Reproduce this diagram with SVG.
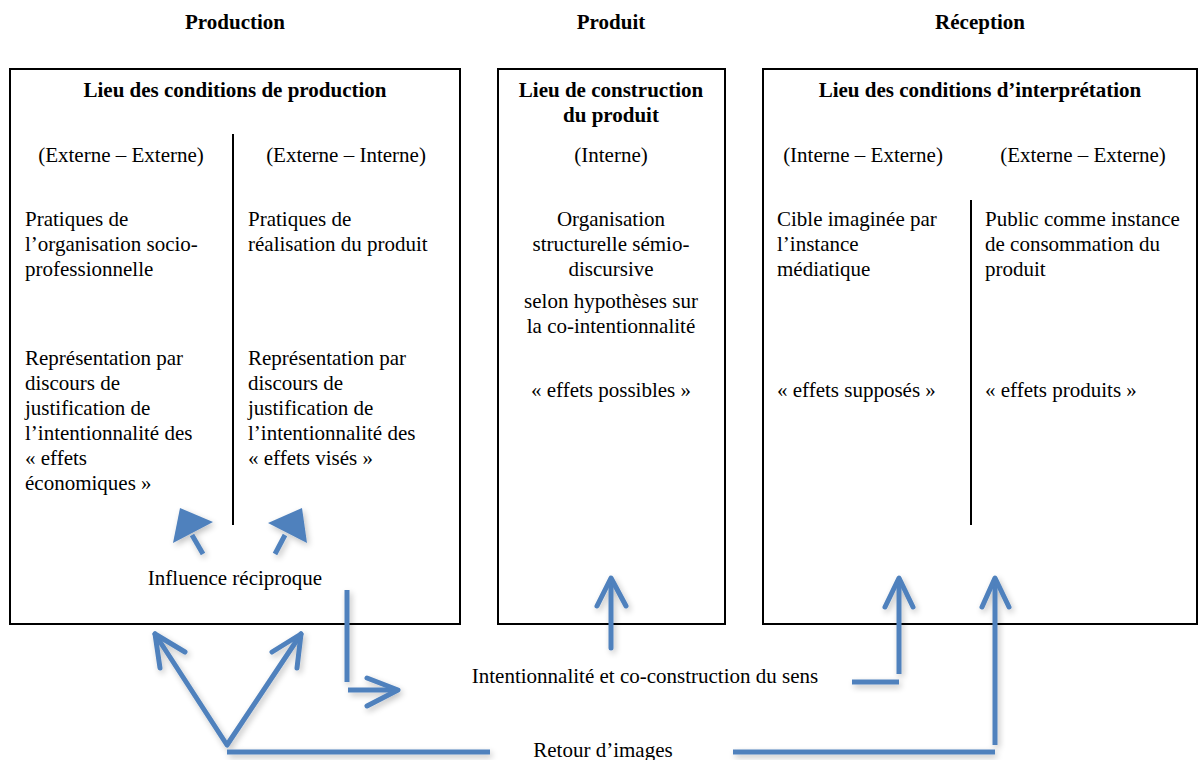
<svg xmlns="http://www.w3.org/2000/svg" width="1202" height="760" viewBox="0 0 1202 760">
<style>
.box{fill:#fff;stroke:#000;stroke-width:2}
.div{stroke:#000;stroke-width:2}
text{font-family:"Liberation Serif","Times New Roman",serif;font-size:21px;fill:#000}
.b{font-weight:bold}
.c{text-anchor:middle}
.ar{fill:none;stroke:#4F81BD;stroke-width:5;stroke-linecap:round;stroke-linejoin:round}
.ln{fill:none;stroke:#4F81BD;stroke-width:5}
.tri{fill:#4F81BD}
</style>
<defs>
<filter id="sh" x="-20%" y="-20%" width="140%" height="140%">
<feGaussianBlur in="SourceAlpha" stdDeviation="3"/>
<feOffset dx="2" dy="3" result="o"/>
<feComponentTransfer><feFuncA type="linear" slope="0.25"/></feComponentTransfer>
<feMerge><feMergeNode/><feMergeNode in="SourceGraphic"/></feMerge>
</filter>
</defs>
<g id="headers">
<text class="b c" x="235" y="29">Production</text>
<text class="b c" x="611" y="29">Produit</text>
<text class="b c" x="980" y="29">Réception</text>
</g>
<g id="production">
<rect class="box" x="10" y="69" width="450" height="555"/>
<line class="div" x1="233" y1="134" x2="233" y2="525"/>
<text class="b c" x="235" y="97">Lieu des conditions de production</text>
<text class="c" x="121" y="162">(Externe – Externe)</text>
<text class="c" x="346" y="162">(Externe – Interne)</text>
<text x="25" y="226">Pratiques de</text>
<text x="25" y="251">l’organisation socio-</text>
<text x="25" y="276">professionnelle</text>
<text x="248" y="226">Pratiques de</text>
<text x="248" y="251">réalisation du produit</text>
<text x="25" y="365">Représentation par</text>
<text x="25" y="390">discours de</text>
<text x="25" y="415">justification de</text>
<text x="25" y="440">l’intentionnalité des</text>
<text x="25" y="465">« effets</text>
<text x="25" y="490">économiques »</text>
<text x="248" y="365">Représentation par</text>
<text x="248" y="390">discours de</text>
<text x="248" y="415">justification de</text>
<text x="248" y="440">l’intentionnalité des</text>
<text x="248" y="465">« effets visés »</text>
<text class="c" x="235" y="585">Influence réciproque</text>
</g>
<g id="produit">
<rect class="box" x="498" y="69" width="227" height="555"/>
<text class="b c" x="611" y="97">Lieu de construction</text>
<text class="b c" x="611" y="122">du produit</text>
<text class="c" x="611" y="162">(Interne)</text>
<text class="c" x="611" y="226">Organisation</text>
<text class="c" x="611" y="251">structurelle sémio-</text>
<text class="c" x="611" y="276">discursive</text>
<text class="c" x="611" y="308">selon hypothèses sur</text>
<text class="c" x="611" y="333">la co-intentionnalité</text>
<text class="c" x="611" y="397">« effets possibles »</text>
</g>
<g id="reception">
<rect class="box" x="763" y="69" width="434" height="555"/>
<line class="div" x1="971" y1="200" x2="971" y2="525"/>
<text class="b c" x="980" y="97">Lieu des conditions d’interprétation</text>
<text class="c" x="863" y="162">(Interne – Externe)</text>
<text class="c" x="1083" y="162">(Externe – Externe)</text>
<text x="777" y="226">Cible imaginée par</text>
<text x="777" y="251">l’instance</text>
<text x="777" y="276">médiatique</text>
<text x="985" y="226">Public comme instance</text>
<text x="985" y="251">de consommation du</text>
<text x="985" y="276">produit</text>
<text x="777" y="397">« effets supposés »</text>
<text x="985" y="397">« effets produits »</text>
</g>
<g id="labels">
<text class="c" x="645" y="683">Intentionnalité et co-construction du sens</text>
<text class="c" x="603" y="757">Retour d’images</text>
</g>
<g id="connectors" filter="url(#sh)">
<line class="ln" x1="203" y1="554" x2="192" y2="535"/>
<polygon class="tri" points="173,543 180,508 213,522"/>
<line class="ln" x1="275" y1="554" x2="285" y2="535"/>
<polygon class="tri" points="268,523 302,508 307,543"/>
<polyline class="ar" points="301,634 227,745 155,634"/>
<polyline class="ar" points="185,652 155,634 160,668"/>
<polyline class="ar" points="272,652 301,634 297,668"/>
<line class="ln" x1="227" y1="752" x2="490" y2="752"/>
<line class="ln" x1="733" y1="752" x2="995" y2="752"/>
<line class="ln" x1="995" y1="745" x2="995" y2="580"/>
<polyline class="ar" points="982,607 995,578 1009,607"/>
<line class="ln" x1="347" y1="590" x2="347" y2="682"/>
<line class="ln" x1="348" y1="690" x2="396" y2="690"/>
<polyline class="ar" points="367,678 398,690 367,706"/>
<line class="ar" x1="611" y1="648" x2="611" y2="580"/>
<polyline class="ar" points="597,606 611,578 626,606"/>
<line class="ln" x1="899" y1="674" x2="899" y2="580"/>
<polyline class="ar" points="885,607 899,578 913,607"/>
<line class="ln" x1="852" y1="682" x2="899" y2="682"/>
</g>
</svg>
